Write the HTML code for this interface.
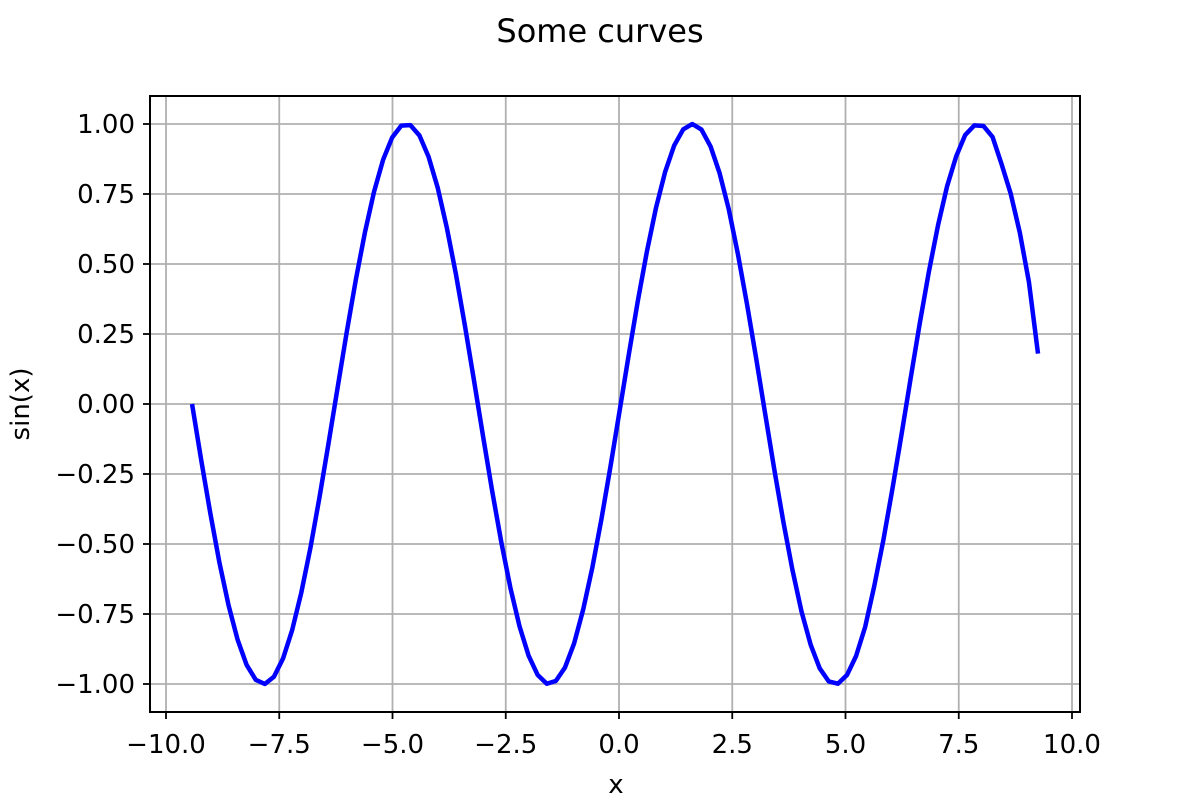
<!DOCTYPE html>
<html><head><meta charset="utf-8"><style>
body{margin:0;background:#fff}
svg text{font-family:"DejaVu Sans","Liberation Sans",sans-serif;fill:#000}
</style></head><body>
<svg id="chart" width="1200" height="800">
<text x="600" y="42" font-size="32" text-anchor="middle">Some curves</text>
<g id="grid"></g>
<g id="ticks"></g>
<polyline id="curve" fill="none" stroke="#0000ff" stroke-width="4.5" stroke-linejoin="round"></polyline>
<rect x="150" y="96" width="930" height="616" fill="none" stroke="#000" stroke-width="2"/>
<text x="616" y="793" font-size="26" text-anchor="middle">x</text>
<text transform="translate(29,404) rotate(-90)" font-size="26" text-anchor="middle">sin(x)</text>
</svg>
<script>
const xStart = -9.4248;
const xStep = 0.2008;
const yValues = [0,-0.199,-0.389,-0.565,-0.717,-0.841,-0.932,-0.985,-1.0,-0.974,-0.909,-0.808,-0.675,-0.516,-0.335,-0.141,0.058,0.256,0.443,0.612,0.757,0.872,0.952,0.994,0.996,0.959,0.883,0.773,0.631,0.465,0.279,0.083,-0.117,-0.312,-0.494,-0.657,-0.794,-0.899,-0.968,-0.999,-0.989,-0.941,-0.855,-0.734,-0.585,-0.412,-0.223,-0.025,0.174,0.367,0.544,0.700,0.828,0.923,0.981,1.0,0.980,0.920,0.824,0.696,0.537,0.358,0.166,-0.034,-0.232,-0.420,-0.592,-0.741,-0.859,-0.944,-0.991,-0.999,-0.968,-0.900,-0.796,-0.650,-0.486,-0.302,-0.108,0.092,0.288,0.472,0.637,0.777,0.884,0.961,0.995,0.993,0.954,0.856,0.751,0.612,0.436,0.180];
const xTicks = [-10,-7.5,-5,-2.5,0,2.5,5,7.5,10];
const xTickLabels = ["\u221210.0","\u22127.5","\u22125.0","\u22122.5","0.0","2.5","5.0","7.5","10.0"];
const yTicks = [-1,-0.75,-0.5,-0.25,0,0.25,0.5,0.75,1];
const yTickLabels = ["\u22121.00","\u22120.75","\u22120.50","\u22120.25","0.00","0.25","0.50","0.75","1.00"];
const sx = v => 619 + v*45.3;
const sy = v => 404 - v*280;
const NS="http://www.w3.org/2000/svg";
const grid=document.getElementById('grid'), ticks=document.getElementById('ticks');
function mk(tag,attrs,parent){const e=document.createElementNS(NS,tag);for(const k in attrs)e.setAttribute(k,attrs[k]);parent.appendChild(e);return e;}
xTicks.forEach((t,i)=>{
  const gl=mk('line',{x1:sx(t),x2:sx(t),y1:96,y2:712,stroke:'#b0b0b0','stroke-width':1.8},grid);
  
  
  const tk=mk('line',{x1:sx(t),x2:sx(t),y1:712,y2:719,stroke:'#000','stroke-width':1.8},ticks);
  
  
  const tx=mk('text',{x:sx(t),y:753,'font-size':26,'text-anchor':'middle'},ticks);
  tx.textContent=xTickLabels[i];
  
  
});
yTicks.forEach((t,i)=>{
  const gl=mk('line',{x1:150,x2:1080,y1:sy(t),y2:sy(t),stroke:'#b0b0b0','stroke-width':1.8},grid);
  
  
  const tk=mk('line',{x1:143,x2:150,y1:sy(t),y2:sy(t),stroke:'#000','stroke-width':1.8},ticks);
  
  
  const tx=mk('text',{x:135,y:sy(t)+9,'font-size':26,'text-anchor':'end'},ticks);
  tx.textContent=yTickLabels[i];
  
  
});
document.getElementById('curve').setAttribute('points',yValues.map((y,k)=>sx(xStart+k*xStep)+','+sy(y)).join(' '));
</script>
</body></html>
